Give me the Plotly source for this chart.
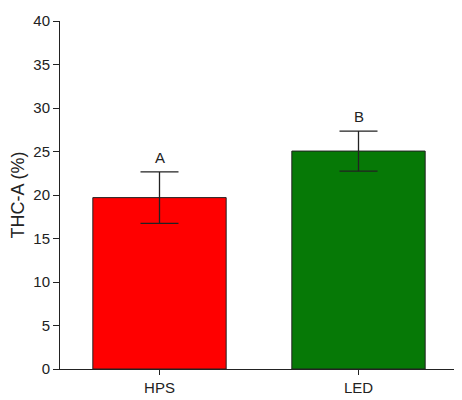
import plotly.graph_objects as go

# data
lamps = ["HPS", "LED"]
thca = [19.7, 25.05]
thca_err = [2.95, 2.3]
letters = ["A", "B"]
bar_colors = ["#ff0000", "#067906"]

fig = go.Figure()

fig.add_trace(go.Bar(
    x=lamps, y=thca,
    marker=dict(color=bar_colors, line=dict(color="#222222", width=1)),
    width=0.67,
    error_y=dict(type="data", array=thca_err, visible=True,
                 color="#222222", thickness=1.3, width=19),
    showlegend=False,
))

# significance letters above the error bars
for lamp, val, err, txt in zip(lamps, thca, thca_err, letters):
    fig.add_annotation(x=lamp, y=val + err, text=txt, showarrow=False,
                       yanchor="bottom", yshift=4,
                       font=dict(size=15, color="#222222"))

# page body adds 8px margin, so size the figure a bit smaller
fig.update_layout(
    width=454, height=392,
    margin=dict(l=52, r=4, t=13, b=25),
    plot_bgcolor="white", paper_bgcolor="white",
    font=dict(family="Liberation Sans, Arial, sans-serif", size=15, color="#222222"),
)
fig.update_xaxes(
    range=[-0.5, 1.5], showline=True, linecolor="#222222", linewidth=1,
    ticks="outside", ticklen=5, tickcolor="#222222", showgrid=False,
)
fig.update_yaxes(
    range=[0, 40], dtick=5, showline=True, linecolor="#222222", linewidth=1,
    ticks="outside", ticklen=6, tickcolor="#222222", showgrid=False,
    zeroline=False, title=dict(text="THC-A (%)", standoff=4),
)

fig.write_html("out.html")
